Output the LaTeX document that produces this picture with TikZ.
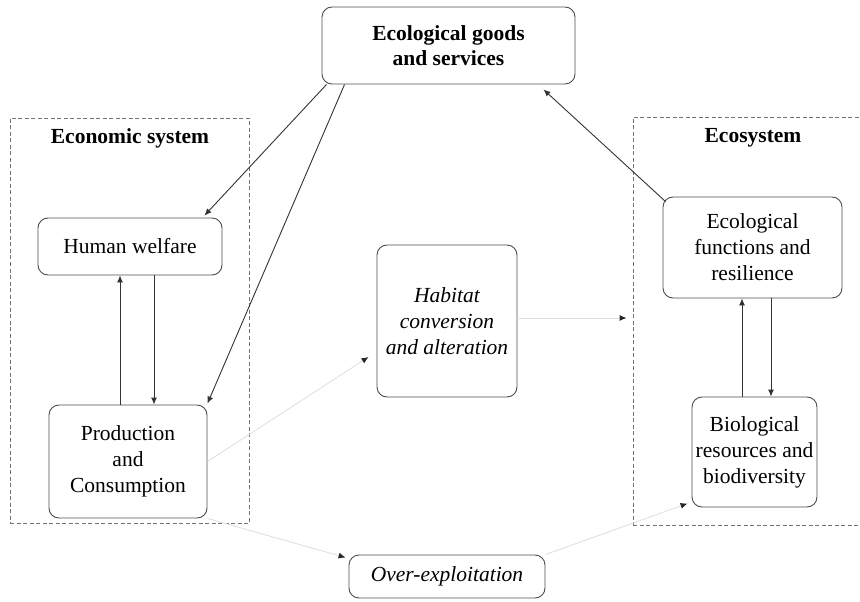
\documentclass[tikz,border=0pt]{standalone}
\usepackage{fontspec}
\setmainfont{Liberation Serif}
\usetikzlibrary{arrows.meta,calc}
\begin{document}
\begin{tikzpicture}[x=1pt,y=-1pt,
  box/.style={draw=black!70, line width=0.9pt, rounded corners=10pt, align=center, inner sep=2pt,
    font=\fontsize{21.5}{26}\selectfont},
  dashbox/.style={draw=black!55, line width=0.9pt, dash pattern=on 4pt off 2.5pt},
  lbl/.style={font=\fontsize{21.5}{26}\selectfont\bfseries},
  arr/.style={draw=black!80, line width=0.9pt, -{Latex[length=7pt,width=6pt]}},
  faint/.style={draw=black!12, line width=0.9pt, -{Latex[length=7pt,width=6pt,fill=black!85,color=black!85]}}
]
\useasboundingbox (0,0) rectangle (860,602);
\begin{scope}
\clip (0,0) rectangle (860,602);
\node[dashbox, minimum width=239pt, minimum height=405pt, inner sep=0pt] (econ) at (129.5,320.5) {};
\node[dashbox, minimum width=237pt, minimum height=408pt, inner sep=0pt] (ecosys) at (751.5,321) {};
\end{scope}
\node[lbl] (econlbl) at (130,138) {Economic system};
\node[lbl] (ecolbl) at (753,138) {Ecosystem};

\node[box, minimum width=253pt, minimum height=77pt, font=\fontsize{21.5}{25}\selectfont\bfseries] (top) at (448.5,45.5) {Ecological goods\\and services};
\node[box, minimum width=184pt, minimum height=57pt] (hw) at (130,246.5) {Human welfare};
\node[box, minimum width=158pt, minimum height=113pt] (prod) at (128,461.5) {Production\\and\\Consumption};
\node[box, minimum width=140pt, minimum height=152pt, font=\fontsize{21.5}{26}\selectfont\itshape] (hab) at (447,321) {Habitat\\conversion\\and alteration};
\node[box, minimum width=179pt, minimum height=101pt] (func) at (752.5,247.5) {Ecological\\functions and\\resilience};
\node[box, minimum width=125pt, minimum height=110pt] (bio) at (754.5,452) {Biological\\resources and\\biodiversity};
\node[box, minimum width=196pt, minimum height=43pt, font=\fontsize{21.5}{26}\selectfont\itshape] (over) at (447,576.5) {Over-exploitation};

\draw[arr] ([xshift=5pt]top.south west) -- ([xshift=-18pt,yshift=2pt]hw.north east);
\draw[arr] ([xshift=23pt]top.south west) -- ([yshift=1pt]prod.north east);
\draw[arr] ([xshift=3pt,yshift=-5pt]func.north west) -- ([xshift=-32pt,yshift=-5pt]top.south east);

\draw[arr] ([xshift=-8pt]prod.north) -- ([xshift=-8pt]prod.north |- hw.south);
\draw[arr] ([xshift=26pt]prod.north |- hw.south) -- ([xshift=26pt]prod.north);
\draw[arr] ([xshift=-12.5pt]bio.north) -- ([xshift=-12.5pt]bio.north |- func.south);
\draw[arr] ([xshift=16.5pt]bio.north |- func.south) -- ([xshift=16.5pt]bio.north);

\draw[faint] (prod.east) -- ([xshift=-8pt,yshift=-36pt]hab.west);
\draw[faint] ([yshift=3pt]hab.east) -- ([xshift=-6pt,yshift=3pt]hab.east -| ecosys.west);
\draw[faint] (prod.south east) -- ([xshift=-3pt,yshift=-3pt]over.north west);
\draw[faint] (over.north east) -- ([xshift=-4pt,yshift=4pt]bio.south west);
\end{tikzpicture}
\end{document}
